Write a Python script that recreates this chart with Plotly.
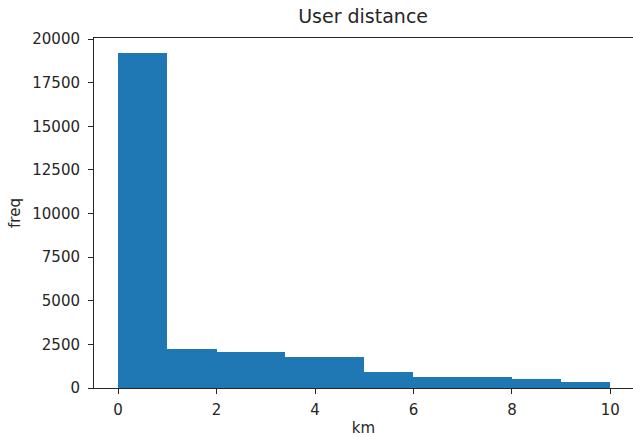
import plotly.graph_objects as go

# Histogram of user distance (km)
bin_edges = [0.0, 1.0, 2.0, 3.4, 5.0, 6.0, 8.0, 9.0, 10.0]
counts = [19200, 2240, 2050, 1760, 940, 650, 540, 360]

centers = [(a + b) / 2 for a, b in zip(bin_edges[:-1], bin_edges[1:])]
widths = [b - a for a, b in zip(bin_edges[:-1], bin_edges[1:])]

x_ticks = [0, 2, 4, 6, 8, 10]
y_ticks = [0, 2500, 5000, 7500, 10000, 12500, 15000, 17500, 20000]

fig = go.Figure(
    go.Bar(
        x=centers,
        y=counts,
        width=widths,
        marker=dict(color="#1f77b4", line=dict(width=0)),
        hoverinfo="x+y",
    )
)

font_family = "DejaVu Sans"
fig.update_layout(
    width=633,
    height=437,
    margin=dict(l=94, r=0, t=38, b=49),
    paper_bgcolor="white",
    plot_bgcolor="white",
    bargap=0,
    showlegend=False,
    font=dict(family=font_family, size=15, color="#262626"),
    title=dict(
        text="User distance",
        x=0.5736,
        xanchor="center",
        y=0.962,
        yanchor="middle",
        font=dict(family=font_family, size=19, color="#262626"),
    ),
)
fig.update_xaxes(
    range=[-0.49, 10.46],
    tickvals=x_ticks,
    ticktext=[str(v) for v in x_ticks],
    ticks="outside",
    ticklen=5,
    tickwidth=1,
    tickcolor="#262626",
    ticklabelstandoff=3,
    showline=True,
    linecolor="#262626",
    linewidth=1,
    mirror=True,
    showgrid=False,
    zeroline=False,
    title=dict(text="km", font=dict(size=15), standoff=4),
)
fig.update_yaxes(
    range=[0, 20060],
    tickvals=y_ticks,
    ticktext=[str(v) for v in y_ticks],
    ticks="outside",
    ticklen=5,
    tickwidth=1,
    tickcolor="#262626",
    ticklabelstandoff=5,
    showline=True,
    linecolor="#262626",
    linewidth=1,
    mirror=False,
    showgrid=False,
    zeroline=False,
    title=dict(text="freq", font=dict(size=15), standoff=8),
)

fig.write_html(
    "out.html",
    config={"displayModeBar": False},
    post_script="document.body.style.margin='0px';document.body.style.overflow='hidden';",
)
